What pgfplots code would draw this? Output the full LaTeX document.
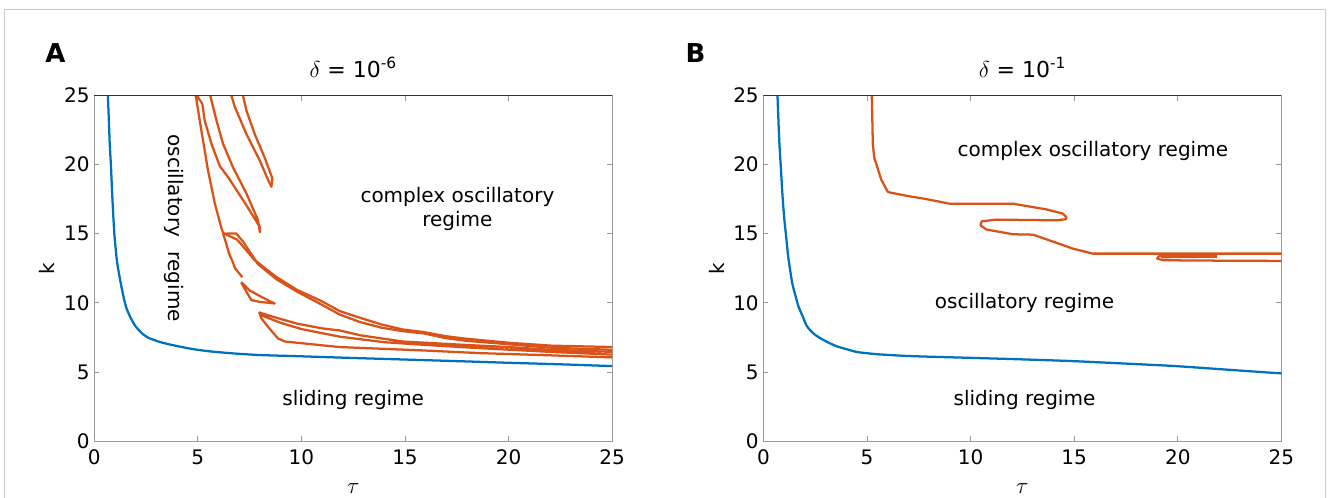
\documentclass[border=0pt]{standalone}
\usepackage{fontspec}
\setmainfont{DejaVu Sans}
\usepackage{pgfplots}
\pgfplotsset{compat=1.18}
\definecolor{mblue}{HTML}{0072BD}
\definecolor{morange}{HTML}{D95319}
\newcommand\f{\fontsize{15}{18}\selectfont}
\newcommand\ft{\fontsize{16.5}{19}\selectfont}
\tikzset{bl/.style={mblue, line width=1.7pt, line join=round},
         orl/.style={morange, line width=1.7pt, line join=round}}
\pgfplotsset{
 myax/.style={
  scale only axis, width=388.5pt, height=259.1pt,
  xmin=0,xmax=25,ymin=0,ymax=25,
  xtick={0,5,...,25}, ytick={0,5,...,25},
  axis line style={draw=gray!80, line width=0.6pt},
  tick style={draw=gray!80, line width=0.6pt},
  major tick length=3.75pt,
  tick label style={font=\f},
  /pgf/number format/assume math mode=true,
  xticklabel style={yshift=-3pt},
  label style={font=\f},
  xlabel={\ft$\tau$},
  ylabel={k},
  xlabel style={at={(axis description cs:0.5,-0.139)},anchor=center},
  ylabel style={at={(axis description cs:-0.0907,0.5)},anchor=center},
  title style={font=\ft, at={(axis description cs:0.5,1.03)}, anchor=base},
 }
}
\begin{document}
\begin{tikzpicture}
\path[use as bounding box] (0pt,0pt) rectangle (997.5pt,-373.5pt);
\draw[gray!40, line width=1.1pt] (3.5pt,-380pt) -- (3.5pt,-7pt) -- (994.1pt,-7pt) -- (994.1pt,-380pt);
\node[font=\bfseries\fontsize{19.5}{22}\selectfont] at (41.6pt,-39.4pt) {A};
\node[font=\bfseries\fontsize{19.5}{22}\selectfont] at (521.6pt,-39.4pt) {B};

% ---------------- Panel A ----------------
\begin{axis}[myax, at={(70.65pt,-330.75pt)}, anchor=south west,
  title={$\delta$ = 10\textsuperscript{-6}}]
\addplot[bl, smooth, tension=0.4] coordinates {
(0.66,25)(0.7,23.5)(0.75,21.5)(0.81,19.85)(0.88,17.5)(0.97,15.04)(1.1,13)(1.28,11.43)(1.45,10.2)(1.58,9.51)(1.8,8.8)(1.99,8.31)(2.3,7.8)(2.61,7.47)(3.1,7.2)(3.63,6.99)(4.65,6.68)(5.5,6.5)(6.7,6.34)(8,6.22)(9.77,6.14)(12,6.03)(14.89,5.9)(17.5,5.78)(20,5.66)(22.5,5.55)(25,5.42)};
% leftmost line joining upper band
\addplot[orl] coordinates {
(4.9,25)(5.12,22.95)(5.49,19.6)(5.82,17.2)(6.14,15.4)(6.22,15.05)(6.91,14.56)(7.73,13.11)(8.75,11.91)(9.77,10.95)(11.0,10.1)(11.85,9.4)(12.84,8.91)(13.87,8.43)(14.89,8.07)(15.92,7.88)(16.94,7.59)(17.96,7.4)(20.0,7.11)(22.06,6.9)(25,6.8)};
% loop 1
\addplot[orl] coordinates {
(4.95,25)(5.22,24.4)(5.33,23.2)(5.66,21.5)(6.06,19.9)(6.46,19.1)(7.35,17.05)(7.99,15.5)(8.0,15.1)(7.9,16.0)(7.35,17.9)(6.7,19.8)(6.22,21.5)(5.9,23.2)(5.6,25)};
% loop 2
\addplot[orl] coordinates {
(6.62,25)(6.78,24.2)(7.35,22.2)(7.99,20.3)(8.39,18.9)(8.55,18.4)(8.6,19.0)(8.23,20.5)(7.75,22.2)(7.35,23.9)(7.18,25)};
% second band line
\addplot[orl] coordinates {
(6.22,15.0)(6.85,15.02)(7.2,14.4)(7.9,12.8)(8.8,11.7)(9.8,10.8)(11.0,9.85)(11.85,9.15)(12.84,8.6)(13.87,8.2)(14.89,7.95)(15.92,7.78)(16.94,7.45)(17.96,7.25)(20.0,7.0)(22.06,6.75)(25,6.6)};
% left line from junction
\addplot[orl] coordinates {
(6.22,15.0)(6.35,14.4)(6.5,13.6)(6.7,12.9)(6.8,12.5)(7.15,11.85)};
% small loop
\addplot[orl] coordinates {
(7.1,11.5)(7.5,10.9)(8.07,10.43)(8.71,9.95)(7.99,10.07)(7.59,10.19)(7.35,10.79)(7.1,11.45)};
% lower group
\addplot[orl] coordinates {
(25,6.45)(22.06,6.6)(20,6.8)(17.96,6.95)(14.89,7.2)(12.84,7.65)(11.85,8.0)(11.0,8.15)(9.77,8.5)(8.54,9.03)(7.97,9.3)(8.05,9.1)(9.0,8.55)(10.0,8.1)(11.85,7.55)(14.0,7.15)(16,6.95)(18.6,6.72)(22,6.45)(25,6.25)};
\addplot[orl] coordinates {
(7.97,9.3)(8.07,8.87)(8.39,8.26)(8.87,7.42)(9.2,7.2)(11.82,6.8)(15.92,6.55)(18.6,6.36)(22,6.2)(25,6.05)};
\draw[black!80, line width=0.7pt] (rel axis cs:0,1) -- (rel axis cs:1,1);
\node[font=\f, rotate=-90] at (axis cs:3.84,15.4) {oscillatory\hspace{11pt}regime};
\node[font=\f, align=center] at (axis cs:17.53,16.8) {complex oscillatory\\regime};
\node[font=\f] at (axis cs:12.5,2.96) {sliding regime};
\end{axis}

% ---------------- Panel B ----------------
\begin{axis}[myax, at={(572.55pt,-330.75pt)}, anchor=south west,
  title={$\delta$ = 10\textsuperscript{-1}}]
\addplot[bl, smooth, tension=0.4] coordinates {
(0.68,25)(0.73,23)(0.78,21.3)(0.84,19.85)(0.92,17.8)(1.0,16.2)(1.08,15.04)(1.2,13.3)(1.39,11.43)(1.55,10.5)(1.69,9.75)(1.9,9.0)(2.1,8.31)(2.4,7.8)(2.71,7.47)(3.1,7.15)(3.53,6.86)(4.0,6.65)(4.56,6.43)(5.58,6.27)(7,6.15)(8.5,6.08)(9.68,6.03)(12,5.93)(14.79,5.79)(17.5,5.6)(19.9,5.42)(22.5,5.15)(25,4.89)};
\addplot[orl] coordinates {
(5.23,25)(5.26,23)(5.28,21.5)(5.35,20.5)(5.49,19.85)(5.69,18.9)(6.0,18.04)(6.11,17.98)(7.08,17.7)(7.88,17.5)(9.0,17.17)(12.05,17.17)(13.66,16.76)(14.46,16.45)(14.62,16.2)(14.6,16.05)(14.14,15.97)(11.25,16.02)(10.53,15.9)(10.48,15.6)(10.77,15.3)(12.05,14.96)(13.02,14.93)(14.94,13.92)(15.9,13.56)(25,13.56)};
\addplot[orl] coordinates {
(25,13.03)(22,13.05)(19.3,13.08)(19.0,13.2)(19.1,13.38)(19.6,13.42)(21.9,13.42)};
\addplot[orl] coordinates {(19.2,13.3)(21.9,13.34)};
\draw[black!80, line width=0.7pt] (rel axis cs:0,1) -- (rel axis cs:1,1);
\node[font=\f] at (axis cs:15.9,21.0) {complex oscillatory regime};
\node[font=\f] at (axis cs:12.6,9.97) {oscillatory regime};
\node[font=\f] at (axis cs:12.6,2.96) {sliding regime};
\end{axis}
\end{tikzpicture}
\end{document}
